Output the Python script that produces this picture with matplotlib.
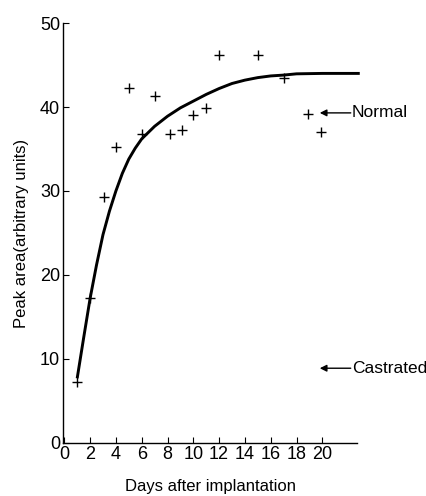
import matplotlib
matplotlib.use("Agg")
import matplotlib.pyplot as plt
from matplotlib import font_manager

# measured points (day, peak area)
days = [1.0, 2.0, 3.1, 4.0, 5.0, 6.0, 7.0, 8.2, 9.1, 10.0, 11.0, 12.0, 15.0, 17.0, 18.9, 19.9]
areas = [7.3, 17.3, 29.3, 35.2, 42.3, 36.8, 41.3, 36.8, 37.3, 39.0, 39.9, 46.2, 46.2, 43.5, 39.2, 37.0]

# fitted curve
curve_days = [1.0, 1.5, 2.0, 2.5, 3.0, 3.5, 4.0, 4.5, 5.0, 5.5, 6.0, 7.0, 8.0, 9.0,
              10.0, 11.0, 12.0, 13.0, 14.0, 15.0, 16.0, 17.0, 18.0, 20.0, 22.9]
curve_area = [7.7, 12.5, 17.2, 21.2, 24.8, 27.6, 30.0, 32.1, 33.8, 35.1, 36.2, 37.7, 38.9, 39.9,
              40.7, 41.5, 42.2, 42.8, 43.2, 43.5, 43.7, 43.8, 43.95, 44.0, 44.0]

normal_level = 39.3
castrated_level = 8.9

xticks = list(range(0, 21, 2))
yticks = [0, 10, 20, 30, 40, 50]

installed = {f.name for f in font_manager.fontManager.ttflist}
font = "Liberation Sans Narrow" if "Liberation Sans Narrow" in installed else "Liberation Sans"
plt.rcParams["font.family"] = [font, "DejaVu Sans"]

fig = plt.figure(figsize=(4.27, 4.96), dpi=100)
ax = fig.add_axes([0.1475, 0.1069, 0.689, 0.8467])

ax.plot(curve_days, curve_area, color="black", lw=2.1, solid_capstyle="butt", clip_on=False)
ax.plot(days, areas, ls="none", marker="+", ms=7, mew=1.0, color="black")

ax.set_xlim(-0.1, 22.7)
ax.set_ylim(0, 50)
ax.set_xticks(xticks)
ax.set_yticks(yticks)
ax.tick_params(direction="in", length=4, width=0.8, labelsize=13, pad=2)
for s in ["top", "right"]:
    ax.spines[s].set_visible(False)
for s in ["left", "bottom"]:
    ax.spines[s].set_linewidth(1.0)

ax.set_xlabel("Days after implantation", fontsize=12, labelpad=12)
ax.set_ylabel("Peak area(arbitrary units)", fontsize=12, labelpad=8)

for label, level in [("Normal", normal_level), ("Castrated", castrated_level)]:
    ax.annotate("", xy=(19.8, level), xytext=(22.2, level),
                arrowprops=dict(arrowstyle="-|>", color="black", lw=1.0,
                                mutation_scale=10, shrinkA=0, shrinkB=0),
                annotation_clip=False)
    ax.text(22.3, level, label, fontsize=12.5, va="center", ha="left", clip_on=False)

fig.savefig("out.png", dpi=100)
